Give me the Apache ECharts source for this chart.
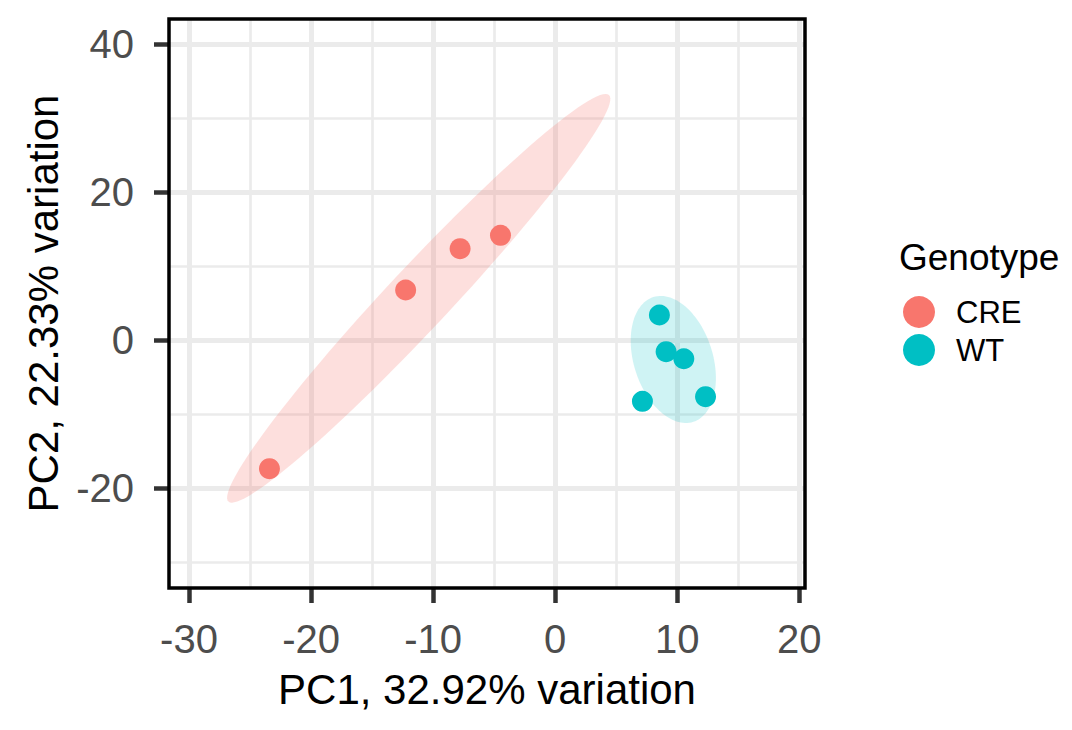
<!DOCTYPE html>
<html>
<head>
<meta charset="utf-8">
<script src="https://cdn.jsdelivr.net/npm/echarts@6/dist/echarts.min.js"></script>
<style>
html,body{margin:0;padding:0;background:#fff;}
#chart{width:1072px;height:730px;}
</style>
</head>
<body>
<div id="chart"></div>
<script>
// ---- data ----
const groups = ['CRE', 'WT'];
const creX = [-23.41, -12.25, -7.79, -4.48];
const creY = [-17.35, 6.80, 12.38, 14.19];
const wtX = [8.54, 9.09, 10.54, 7.15, 12.32];
const wtY = [3.42, -1.54, -2.49, -8.24, -7.62];
// ellipse: centre, major half-axis vector, minor half-axis vector (data units)
const creEllipse = [-11.18, 5.68, 15.59, 27.47, 1.86, -2.86];
const wtEllipse = [9.68, -2.59, 1.64, -8.43, 3.08, 1.63];
const xTicks = [-30, -20, -10, 0, 10, 20];
const xMinor = [-25, -15, -5, 5, 15];
const yTicks = [-20, 0, 20, 40];
const yMinor = [-30, -10, 10, 30];
const xTitle = 'PC1, 32.92% variation';
const yTitle = 'PC2, 22.33% variation';
const legendTitle = 'Genotype';

const colors = {CRE: '#F8766D', WT: '#00BFC4'};
const fills = {CRE: 'rgba(248,118,109,0.23)', WT: 'rgba(0,191,196,0.19)'};
const FONT = '"Liberation Sans", Arial, Helvetica, sans-serif';

function zip(xs, ys) { return xs.map((x, i) => [x, ys[i]]); }

function ellipseSeries(name, params, fill) {
  return {
    type: 'custom',
    name: name + ' ellipse',
    xAxisIndex: 0, yAxisIndex: 0,
    z: 1,
    silent: true,
    data: [params],
    dimensions: ['cx', 'cy', 'ax', 'ay', 'bx', 'by'],
    encode: {x: 0, y: 1},
    renderItem: function (p, api) {
      const cx = api.value(0), cy = api.value(1), ax = api.value(2), ay = api.value(3), bx = api.value(4), by = api.value(5);
      const pts = [];
      const N = 120;
      for (let i = 0; i < N; i++) {
        const t = 2 * Math.PI * i / N;
        pts.push(api.coord([cx + ax * Math.cos(t) + bx * Math.sin(t), cy + ay * Math.cos(t) + by * Math.sin(t)]));
      }
      return {type: 'polygon', shape: {points: pts}, style: {fill: fill, stroke: null}};
    }
  };
}

const xMin = -31.64, xMax = 20.47, yMin = -33.47, yMax = 43.42;
const tickStyle = {show: true, length: 15, lineStyle: {color: '#333333', width: 4.5}};
const majorSplit = {show: true, lineStyle: {color: '#EBEBEB', width: 5}};
const minorSplit = {show: true, lineStyle: {color: '#EBEBEB', width: 2.7}};
const noLine = {show: false, onZero: false};

const chart = echarts.init(document.getElementById('chart'), null, {renderer: 'svg'});
chart.setOption({
  animation: false,
  backgroundColor: '#ffffff',
  textStyle: {fontFamily: FONT},
  title: {
    text: legendTitle,
    left: 899, top: 239,
    padding: 0,
    textStyle: {fontFamily: FONT, fontSize: 37, fontWeight: 'normal', color: '#000000'}
  },
  legend: {
    data: groups,
    orient: 'vertical',
    left: 903, top: 296,
    padding: 0,
    itemWidth: 32, itemHeight: 32,
    itemGap: 6,
    icon: 'circle',
    textStyle: {fontFamily: FONT, fontSize: 31, color: '#000000', padding: [0, 0, 0, 16]}
  },
  grid: {
    left: 169, right: 267, top: 19, bottom: 142,
    show: true, z: 5,
    backgroundColor: 'transparent',
    borderColor: '#000000', borderWidth: 3.5
  },
  xAxis: [{
    type: 'value', min: xMin, max: xMax, position: 'bottom',
    axisLine: noLine,
    axisTick: Object.assign({customValues: xTicks}, tickStyle),
    axisLabel: {customValues: xTicks, fontFamily: FONT, fontSize: 40, color: '#4D4D4D', margin: 31},
    splitLine: majorSplit,
    name: xTitle, nameLocation: 'middle', nameGap: 80,
    nameTextStyle: {fontFamily: FONT, fontSize: 42, color: '#000000'}
  }, {
    type: 'value', min: xMin, max: xMax, position: 'bottom',
    axisLine: noLine,
    axisTick: {show: false, customValues: xMinor},
    axisLabel: {show: false, customValues: xMinor},
    splitLine: minorSplit
  }],
  yAxis: [{
    type: 'value', min: yMin, max: yMax, position: 'left',
    axisLine: noLine,
    axisTick: Object.assign({customValues: yTicks}, tickStyle),
    axisLabel: {customValues: yTicks, fontFamily: FONT, fontSize: 40, color: '#4D4D4D', margin: 35},
    splitLine: majorSplit,
    name: yTitle, nameLocation: 'middle', nameGap: 105,
    nameTextStyle: {fontFamily: FONT, fontSize: 42, color: '#000000'}
  }, {
    type: 'value', min: yMin, max: yMax, position: 'left',
    axisLine: noLine,
    axisTick: {show: false, customValues: yMinor},
    axisLabel: {show: false, customValues: yMinor},
    splitLine: minorSplit
  }],
  series: [
    ellipseSeries('CRE', creEllipse, fills.CRE),
    ellipseSeries('WT', wtEllipse, fills.WT),
    {
      type: 'scatter', name: 'CRE', data: zip(creX, creY),
      symbol: 'circle', symbolSize: 21, z: 3,
      itemStyle: {color: colors.CRE, opacity: 1}
    },
    {
      type: 'scatter', name: 'WT', data: zip(wtX, wtY),
      symbol: 'circle', symbolSize: 21, z: 3,
      itemStyle: {color: colors.WT, opacity: 1}
    }
  ]
});
</script>
</body>
</html>
